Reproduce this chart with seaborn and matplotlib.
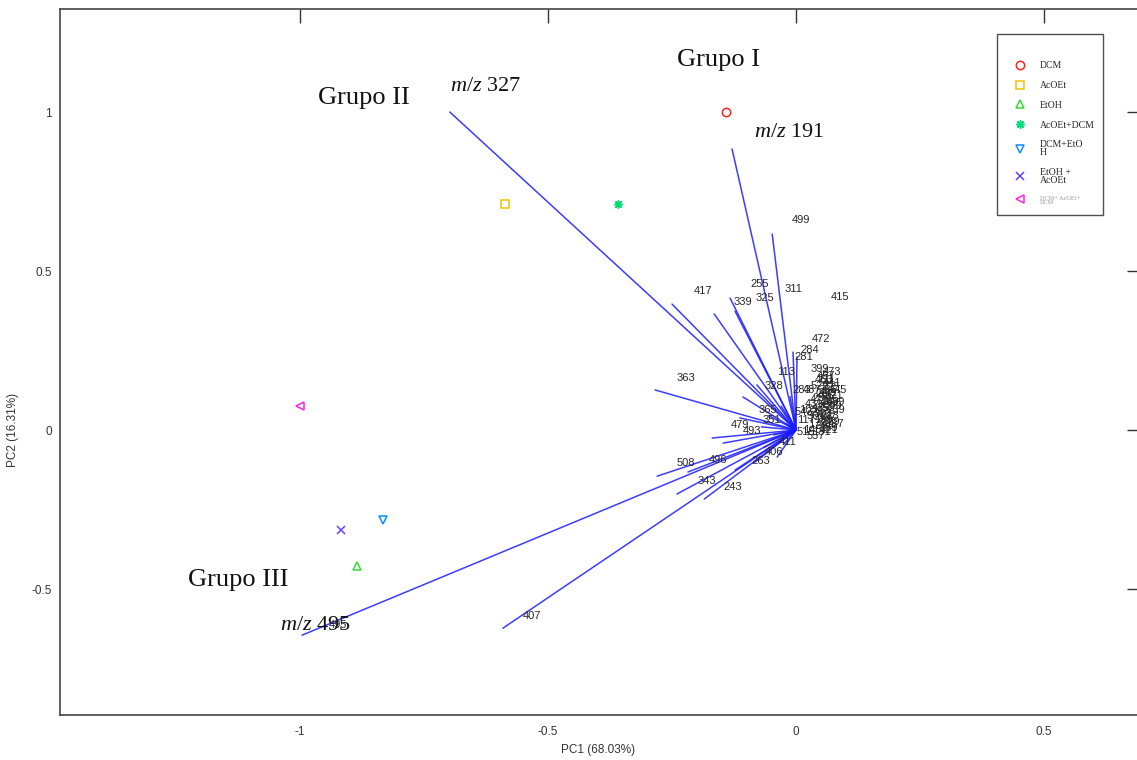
import numpy as np
import pandas as pd
import matplotlib
matplotlib.use("Agg")
import matplotlib.pyplot as plt
import seaborn as sns

# ---------------- data ----------------
sample_names = ["DCM", "AcOEt", "EtOH", "AcOEt+DCM", "DCM+EtOH", "EtOH + AcOEt", "DCM+ AcOEt+ DCM"]
legend_labels = ["DCM", "AcOEt", "EtOH", "AcOEt+DCM", "DCM+EtO\nH", "EtOH +\nAcOEt", "DCM+ AcOEt+\nDCM"]
pc1_scores = [-0.141, -0.587, -0.885, -0.359, -0.833, -0.917, -1.000]
pc2_scores = [1.000, 0.711, -0.428, 0.711, -0.283, -0.314, 0.075]

# loading vectors (end points; each drawn from the origin)
load_x = [-0.698, -0.129, -0.048, -0.250, -0.165, -0.133, -0.123, -0.006, 0.002,
          -0.284, -0.107, -0.079, -0.113, -0.169, -0.147, -0.280, -0.218, -0.240,
          -0.185, -0.123, -0.083, -0.996, -0.591,
          -0.055, -0.045, -0.065, -0.030, -0.025, -0.038, -0.012, -0.070, -0.020]
load_y = [1.000, 0.884, 0.616, 0.396, 0.365, 0.415, 0.374, 0.245, 0.230,
          0.126, 0.104, 0.142, 0.038, -0.025, -0.041, -0.145, -0.132, -0.201,
          -0.217, -0.126, -0.101, -0.645, -0.623,
          0.045, -0.015, -0.055, 0.075, -0.045, -0.085, 0.105, 0.010, 0.020]

# variable labels (m/z) and their text positions
lab_text = ["417", "339", "255", "325", "311", "415", "499", "472", "284", "281",
            "363", "113", "328", "283", "399", "365", "479", "493", "508", "496",
            "343", "243", "263", "406", "407", "495", "411", "351",
            "457", "441", "385", "371", "297", "269", "253", "239", "227", "213",
            "199", "187", "173", "159", "145", "131", "117", "103", "431", "445",
            "459", "473", "487", "501", "515", "529", "543", "557",
            "211", "225", "267", "295", "309", "323", "337", "379", "393", "421",
            "435", "449", "463", "477"]
lab_x = [-0.1875, -0.107, -0.073, -0.0625, -0.006, 0.089, 0.010, 0.050, 0.028, 0.016,
         -0.222, -0.020, -0.044, 0.012, 0.048, -0.056, -0.113, -0.089, -0.222, -0.157,
         -0.179, -0.127, -0.071, -0.044, -0.532, -0.923, -0.016, -0.048,
         0.060, 0.073, 0.065, 0.077, 0.052, 0.069, 0.060, 0.081, 0.048, 0.069,
         0.056, 0.077, 0.044, 0.065, 0.032, 0.052, 0.020, 0.024, 0.036, 0.085,
         0.081, 0.073, 0.032, 0.040, 0.020, 0.048, 0.016, 0.040,
         0.062, 0.070, 0.058, 0.066, 0.074, 0.054, 0.062, 0.070, 0.058, 0.066,
         0.050, 0.064, 0.056, 0.046]
lab_y = [0.437, 0.403, 0.459, 0.415, 0.443, 0.418, 0.660, 0.286, 0.252, 0.230,
         0.164, 0.182, 0.138, 0.126, 0.192, 0.063, 0.016, -0.003, -0.104, -0.094,
         -0.160, -0.179, -0.097, -0.069, -0.585, -0.613, -0.038, 0.031,
         0.170, 0.148, 0.126, 0.107, 0.101, 0.088, 0.069, 0.063, 0.057, 0.044,
         0.031, 0.019, 0.019, 0.006, 0.000, -0.006, 0.031, 0.063, 0.082, 0.126,
         0.088, 0.182, 0.126, 0.044, -0.006, 0.138, 0.057, -0.019,
         0.160, 0.136, 0.114, 0.094, 0.076, 0.050, 0.038, 0.026, 0.012, 0.000,
         0.070, 0.118, 0.158, 0.096]

# group annotations
group_text = ["Grupo I", "Grupo II", "Grupo III"]
group_x = [-0.240, -0.964, -1.226]
group_y = [1.164, 1.044, -0.472]
mz_text = ["327", "191", "495"]
mz_x = [-0.698, -0.085, -1.040]
mz_y = [1.079, 0.937, -0.616]

# ---------------- style ----------------
sns.set_theme(style="white")
plt.rcParams["font.family"] = ["Liberation Sans", "DejaVu Sans"]
plt.rcParams["axes.unicode_minus"] = False
plt.rcParams["mathtext.fontset"] = "custom"
plt.rcParams["mathtext.rm"] = "Liberation Serif"
plt.rcParams["mathtext.it"] = "Liberation Serif:italic"

fig = plt.figure(figsize=(11.37, 7.60), dpi=100)
ax = fig.add_axes([60 / 1137, 45 / 760, 1077 / 1137, 706 / 760])

# loading vectors via seaborn
rows = []
for i, (lx, ly) in enumerate(zip(load_x, load_y)):
    rows.append({"v": i, "order": 0, "x": 0.0, "y": 0.0})
    rows.append({"v": i, "order": 1, "x": lx, "y": ly})
vec_df = pd.DataFrame(rows)
sns.lineplot(data=vec_df, x="x", y="y", units="v", estimator=None, sort=False,
             color="#1a1aff", lw=1.1, alpha=0.85, ax=ax, legend=False)

# variable labels
for t, x, y in zip(lab_text, lab_x, lab_y):
    ax.text(x, y, t, fontsize=8, color="#262626", ha="center", va="center",
            family="Liberation Sans", zorder=4)

# sample scores
marker_list = ["o", "s", "^", (8, 2, 0), "v", "x", "<"]
color_list = ["#ff2020", "#f2c200", "#33dd33", "#00dd77", "#0a8cff", "#6a3cff", "#ff22dd"]
handles = []
for i in range(len(sample_names)):
    m = marker_list[i]
    h, = ax.plot([pc1_scores[i]], [pc2_scores[i]], linestyle="none", marker=m,
                 markersize=6, markerfacecolor="none", markeredgecolor=color_list[i],
                 markeredgewidth=1.1, zorder=5, label=legend_labels[i])
    handles.append(h)

# group labels
for t, x, y in zip(group_text, group_x, group_y):
    ax.text(x, y, t, fontsize=19, family="Liberation Serif", color="#111111",
            ha="left", va="center")
for t, x, y in zip(mz_text, mz_x, mz_y):
    ax.text(x, y, r"$\mathit{m/z}$ " + t, fontsize=16, family="Liberation Serif",
            color="#111111", ha="left", va="center", zorder=3)

# axes
ax.set_xlim(-1.484, 0.6875)
ax.set_ylim(-0.896, 1.324)
ax.set_xticks([-1, -0.5, 0, 0.5])
ax.set_xticklabels(["-1", "-0.5", "0", "0.5"])
ax.set_yticks([-0.5, 0, 0.5, 1])
ax.set_yticklabels(["-0.5", "0", "0.5", "1"])
ax.tick_params(axis="both", direction="in", top=True, right=True, labelsize=8.5,
               colors="#333333", width=1.0)
ax.tick_params(axis="x", length=10, pad=8)
ax.tick_params(axis="y", length=7, pad=6)
for s in ["left", "bottom", "top"]:
    ax.spines[s].set_color("#444444")
    ax.spines[s].set_linewidth(1.2)
ax.spines["right"].set_visible(False)
ax.grid(False)

ax.set_xlabel("PC1 (68.03%)", fontsize=8.5, color="#333333", labelpad=4)
ax.set_ylabel("PC2 (16.31%)", fontsize=8.5, color="#333333")
ax.yaxis.set_label_coords(-0.038, 0.404)

leg = ax.legend(handles=handles, loc="upper left",
                bbox_to_anchor=(0.870, 0.711, 0.0984, 0.2535), mode="expand",
                borderaxespad=0.0,
                frameon=True, fancybox=False, labelspacing=1.1,
                handlelength=2.8, handletextpad=0.6, borderpad=1.0,
                title=" ", title_fontsize=6,
                prop={"family": "Liberation Serif", "size": 7})
leg.get_frame().set_edgecolor("#222222")
leg.get_frame().set_linewidth(1.0)
texts = leg.get_texts()
for t in texts:
    t.set_linespacing(0.85)
texts[-1].set_color("#999999")
texts[-1].set_fontsize(4.5)

fig.savefig("out.png", dpi=100)
